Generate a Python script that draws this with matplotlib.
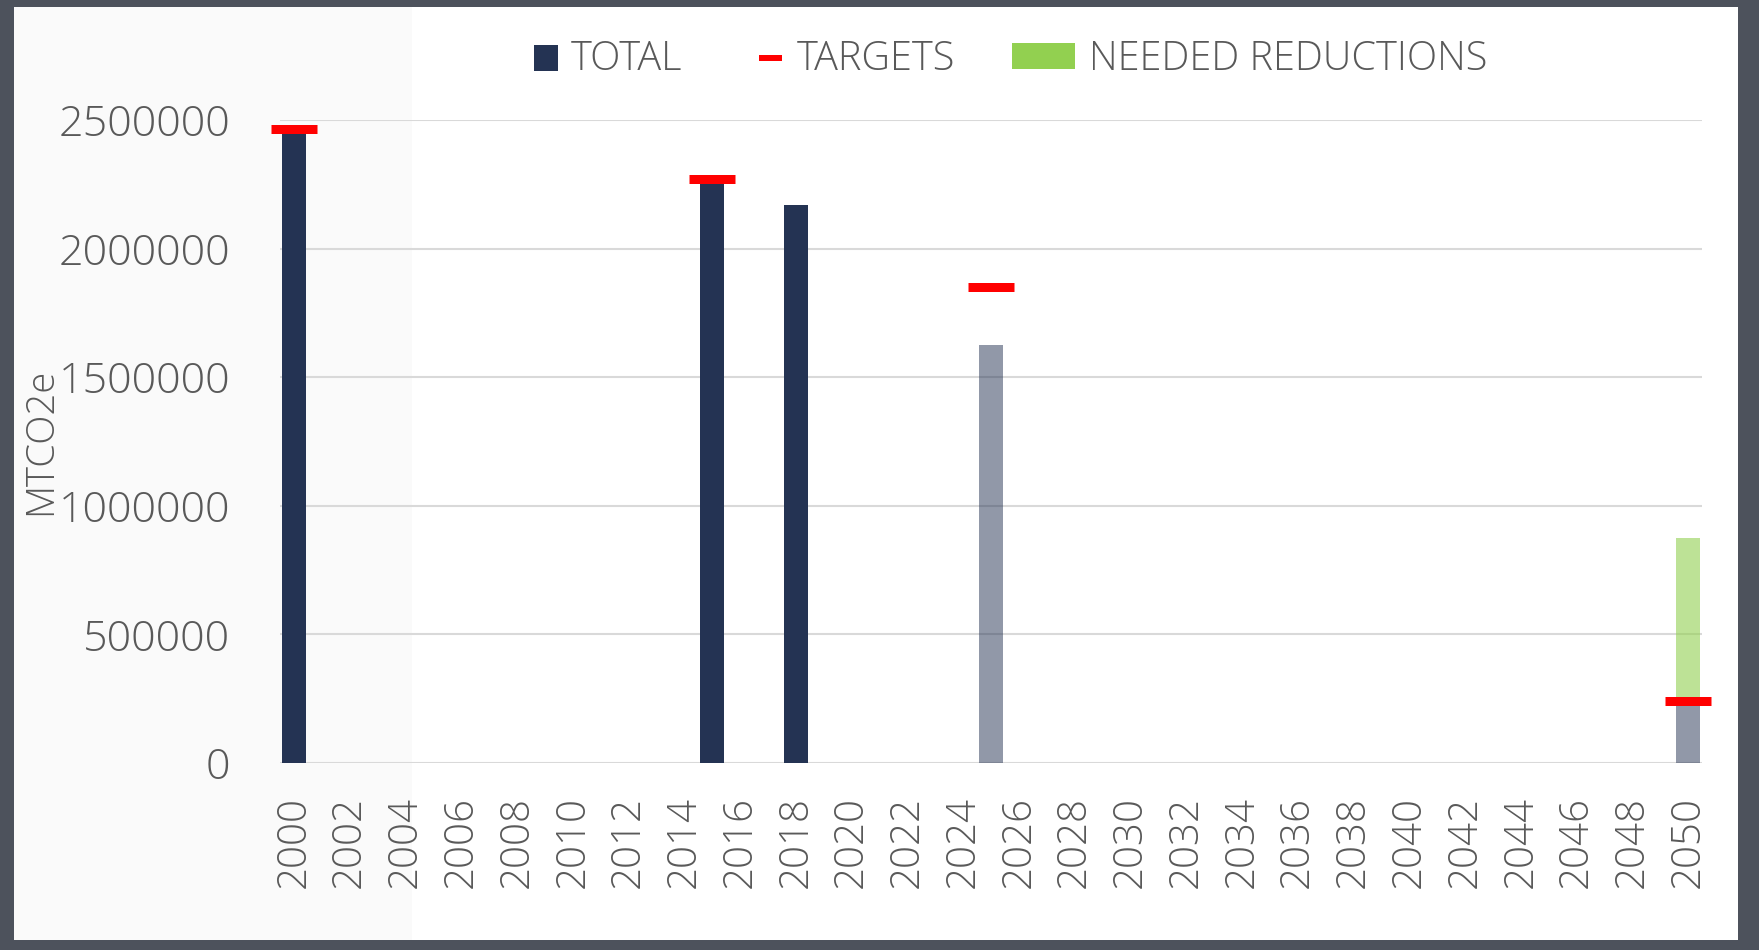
import matplotlib
matplotlib.use("Agg")
import matplotlib.pyplot as plt
from matplotlib.patches import Rectangle
import numpy as np

# ---- data ----
years = list(range(2000, 2051))
tick_years = list(range(2000, 2051, 2))
total_actual = {2000: 2460000, 2015: 2268000, 2018: 2168000}
total_projected = {2025: 1625000, 2050: 243000}
targets = {2000: 2466000, 2015: 2269000, 2025: 1851000, 2050: 243000}
needed_reductions = {2050: 632000}
y_ticks = [0, 500000, 1000000, 1500000, 2000000, 2500000]

# ---- style ----
NAVY = "#243353"
GREEN = "#92d050"
RED = "#ff0000"
TXT = "#595959"
BORDER = "#4d525c"
FONT = "Open Sans"
W, H = 1759, 950

plt.rcParams["font.family"] = [FONT, "DejaVu Sans"]
fig = plt.figure(figsize=(W / 100, H / 100), dpi=100, facecolor=BORDER)

# white card and light left panel
fig.add_artist(Rectangle((14 / W, 1 - 940 / H), (1738 - 14) / W, (940 - 7) / H,
                         transform=fig.transFigure, facecolor="white", edgecolor="none", zorder=-3))
fig.add_artist(Rectangle((14 / W, 1 - 940 / H), (412 - 14) / W, (940 - 7) / H,
                         transform=fig.transFigure, facecolor="#fafafa", edgecolor="none", zorder=-2))

ax = fig.add_axes([280 / W, 1 - 763 / H, (1702 - 280) / W, (763 - 120) / H])
ax.patch.set_alpha(0)

xpos = {y: i for i, y in enumerate(years)}
bw = 0.88

ax.bar([xpos[y] for y in total_actual], list(total_actual.values()), width=bw,
       color=NAVY, zorder=2)
ax.bar([xpos[y] for y in total_projected], list(total_projected.values()), width=bw,
       color=NAVY, alpha=0.5, zorder=2)
ax.bar([xpos[y] for y in needed_reductions], list(needed_reductions.values()), width=bw,
       bottom=[total_projected[y] for y in needed_reductions],
       color=GREEN, alpha=0.6, zorder=2)
ax.plot([xpos[y] for y in targets], list(targets.values()), linestyle="none",
        marker="_", markersize=47 * 0.72, markeredgewidth=9 * 0.72, color=RED, zorder=4,
        clip_on=False)

ax.set_xlim(-0.5, len(years) - 0.5)
ax.set_ylim(0, 2500000)
ax.set_yticks(y_ticks)
ax.set_yticklabels([str(v) for v in y_ticks])
ax.set_xticks([xpos[y] for y in tick_years])
ax.set_xticklabels([str(y) for y in tick_years], rotation=90, va="top", ha="center")
ax.yaxis.grid(True, color="#d9d9d9", linewidth=1.5, zorder=0)
ax.set_axisbelow(True)
for s in ax.spines.values():
    s.set_visible(False)
ax.tick_params(axis="both", length=0, colors=TXT)
ax.tick_params(axis="y", pad=36, labelsize=31)
ax.tick_params(axis="x", pad=24, labelsize=29)
for lab in ax.get_xticklabels() + ax.get_yticklabels():
    lab.set_fontweight("light")

fig.text(41 / W, 1 - 441 / H, "MTCO2e", rotation=90, ha="center", va="center",
         fontsize=27.5, color=TXT, fontweight="light")

# legend
def rect(x0, y0, x1, y1, **kw):
    fig.add_artist(Rectangle((x0 / W, 1 - y1 / H), (x1 - x0) / W, (y1 - y0) / H,
                             transform=fig.transFigure, edgecolor="none", **kw))

ly = 1 - 59 / H
LFS = 28.5
rect(534, 45, 558, 71, facecolor=NAVY)
fig.text(571 / W, ly, "TOTAL", ha="left", va="center", fontsize=LFS, color=TXT, fontweight="light")
rect(759, 55, 782, 61, facecolor=RED)
fig.text(797 / W, ly, "TARGETS", ha="left", va="center", fontsize=LFS, color=TXT, fontweight="light")
rect(1012, 43, 1075, 69, facecolor=GREEN)
fig.text(1089 / W, ly, "NEEDED REDUCTIONS", ha="left", va="center", fontsize=LFS, color=TXT,
         fontweight="light")

fig.savefig("out.png", dpi=100, facecolor=BORDER)
